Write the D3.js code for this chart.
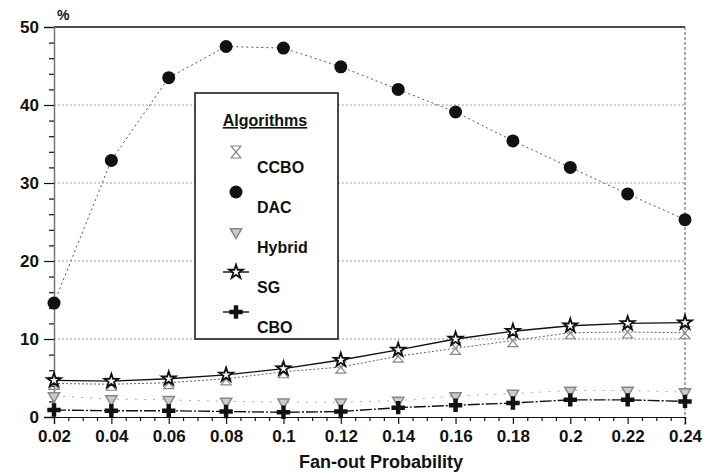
<!DOCTYPE html>
<html>
<head>
<meta charset="utf-8">
<script src="https://cdn.jsdelivr.net/npm/d3@7"></script>
<style>
body { margin: 0; background: #fff; }
text { font-family: "Liberation Sans", Arial, sans-serif; font-weight: bold; fill: #111; }
</style>
</head>
<body>
<svg id="ChartSvg" width="710" height="473"></svg>
<script>
// values
var FanOut = [0.02, 0.04, 0.06, 0.08, 0.1, 0.12, 0.14, 0.16, 0.18, 0.2, 0.22, 0.24];
var DAC   = [14.6, 32.9, 43.5, 47.5, 47.3, 44.9, 42.0, 39.1, 35.4, 32.0, 28.6, 25.3];
var SG    = [4.7, 4.6, 4.9, 5.4, 6.2, 7.3, 8.6, 10.0, 11.0, 11.7, 12.0, 12.1];
var CCBO  = [4.3, 4.2, 4.4, 4.9, 5.8, 6.4, 7.8, 8.8, 9.8, 10.8, 10.9, 10.8];
var Hybrid = [2.7, 2.3, 2.2, 2.0, 1.9, 1.9, 2.1, 2.7, 3.0, 3.4, 3.4, 3.2];
var CBO   = [0.9, 0.8, 0.8, 0.7, 0.6, 0.7, 1.2, 1.5, 1.8, 2.2, 2.2, 2.0];
var YTicks = [0, 10, 20, 30, 40, 50];
var XTicks = FanOut;
var LegendNames = ["CCBO", "DAC", "Hybrid", "SG", "CBO"];

var Svg = d3.select("#ChartSvg");
var X = d3.scaleLinear().domain([0.02, 0.24]).range([54, 685]);
var Y = d3.scaleLinear().domain([0, 50]).range([417, 27]);

// grid lines
Svg.append("g").selectAll("line")
	.data([10, 20, 30, 40])
	.enter()
	.append("line")
	.attr("x1", X(0.02)).attr("x2", X(0.24))
	.attr("y1", function(d){ return Y(d); })
	.attr("y2", function(d){ return Y(d); })
	.style("stroke", "#999")
	.style("stroke-width", 1)
	.style("stroke-dasharray", "2,2");

// frame: top solid, right dotted
Svg.append("line")
	.attr("x1", X(0.02)).attr("x2", X(0.24))
	.attr("y1", Y(50)).attr("y2", Y(50))
	.style("stroke", "#111").style("stroke-width", 1.5);
Svg.append("line")
	.attr("x1", X(0.24)).attr("x2", X(0.24))
	.attr("y1", Y(50)).attr("y2", Y(0) + 10)
	.style("stroke", "#555").style("stroke-width", 1).style("stroke-dasharray", "3,2");

// axes
var MinorY = d3.range(0, 51, 2).filter(function(d){ return d % 10 != 0; });
var MinorX = d3.range(0, 45).map(function(i){ return 0.02 + i*0.005; })
	.filter(function(d){ return d <= 0.2401 && Math.round(d*1000) % 20 != 0; });

var YAxis = Svg.append("g").attr("transform", "translate(" + X(0.02) + ",0)")
	.call(d3.axisLeft(Y).tickValues(YTicks).tickSize(10).tickPadding(5).tickFormat(d3.format("d")));
Svg.append("g").attr("transform", "translate(" + X(0.02) + ",0)")
	.call(d3.axisLeft(Y).tickValues(MinorY).tickSize(5).tickFormat(""))
	.select(".domain").remove();

var XAxis = Svg.append("g").attr("transform", "translate(0," + Y(0) + ")")
	.call(d3.axisBottom(X).tickValues(XTicks).tickSize(7).tickPadding(6)
		.tickFormat(function(d){ return String(+d.toFixed(2)); }));
Svg.append("g").attr("transform", "translate(0," + Y(0) + ")")
	.call(d3.axisBottom(X).tickValues(MinorX).tickSize(4).tickFormat(""))
	.select(".domain").remove();

YAxis.select(".domain").style("stroke", "#777").style("stroke-width", 1.5);
XAxis.select(".domain").style("stroke", "#111").style("stroke-width", 1.2);
Svg.selectAll(".tick line").style("stroke", "#111").style("stroke-width", 1.2);
Svg.selectAll(".tick text").style("font-size", "17px").style("font-weight", "bold")
	.style("font-family", "'Liberation Sans', Arial, sans-serif").style("fill", "#111");

Svg.append("text").attr("x", 57).attr("y", 20).style("font-size", "14px").text("%");
Svg.append("text").attr("x", 381).attr("y", 468).attr("text-anchor", "middle")
	.style("font-size", "18px").text("Fan-out Probability");

// markers
var StarPath = d3.symbol().type(d3.symbolStar).size(60);
var TriPath = d3.symbol().type(d3.symbolTriangle).size(55);
var CrossPath = d3.symbol().type(d3.symbolCross).size(100);

function DrawMarker(G, Name)
{
	if (Name == "DAC") {
		G.append("circle").attr("r", 6.5).style("fill", "#111");
	} else if (Name == "SG") {
		G.append("path").attr("d", StarPath).style("fill", "#fff").style("stroke", "#111").style("stroke-width", 1.8);
	} else if (Name == "CBO") {
		G.append("path").attr("d", CrossPath).style("fill", "#111");
	} else if (Name == "Hybrid") {
		G.append("path").attr("d", TriPath).attr("transform", "rotate(180)")
			.style("fill", "#ccc").style("stroke", "#888").style("stroke-width", 1.5);
	} else {
		G.append("path").attr("d", "M-5,-6 H5 L-5,6 H5 Z")
			.style("fill", "none").style("stroke", "#888").style("stroke-width", 1.2);
	}
}

var SeriesList = [
	{ Name: "Hybrid", Values: Hybrid, Color: "#aaa", Dash: "2,7", Width: 1 },
	{ Name: "CBO", Values: CBO, Color: "#111", Dash: "12,2,2,2", Width: 1.4 },
	{ Name: "CCBO", Values: CCBO, Color: "#666", Dash: "2,2", Width: 1 },
	{ Name: "SG", Values: SG, Color: "#111", Dash: null, Width: 1.4 },
	{ Name: "DAC", Values: DAC, Color: "#555", Dash: "2,3", Width: 1 }
];

var LineGen = d3.line()
	.x(function(d, i){ return X(FanOut[i]); })
	.y(function(d){ return Y(d); });

SeriesList.forEach(function(S)
{
	Svg.append("path")
		.attr("d", LineGen(S.Values))
		.style("fill", "none")
		.style("stroke", S.Color)
		.style("stroke-width", S.Width)
		.style("stroke-dasharray", S.Dash);
	Svg.append("g").selectAll("g")
		.data(S.Values)
		.enter()
		.append("g")
		.attr("transform", function(d, i){ return "translate(" + X(FanOut[i]) + "," + Y(d) + ")"; })
		.each(function(){ DrawMarker(d3.select(this), S.Name); });
});

// legend
var Legend = Svg.append("g");
Legend.append("rect").attr("x", 195).attr("y", 93).attr("width", 143).attr("height", 246)
	.style("fill", "#fff").style("stroke", "#111").style("stroke-width", 1.5);
Legend.append("text").attr("x", 265).attr("y", 126).attr("text-anchor", "middle")
	.style("font-size", "16px").style("text-decoration", "underline").text("Algorithms");

var LegendRows = Legend.selectAll(".row")
	.data(LegendNames)
	.enter()
	.append("g")
	.attr("class", "row")
	.attr("transform", function(d, i){ return "translate(0," + (152 + i*40) + ")"; });

LegendRows.each(function(d)
{
	var G = d3.select(this);
	if (d == "SG" || d == "CBO") {
		G.append("line").attr("x1", 223).attr("x2", 249).attr("y1", 0).attr("y2", 0)
			.style("stroke", "#111").style("stroke-width", 1.4);
	}
	DrawMarker(G.append("g").attr("transform", "translate(236,0)"), d);
	G.append("text").attr("x", 257).attr("y", 21).style("font-size", "16px").text(d);
});
</script>
</body>
</html>
